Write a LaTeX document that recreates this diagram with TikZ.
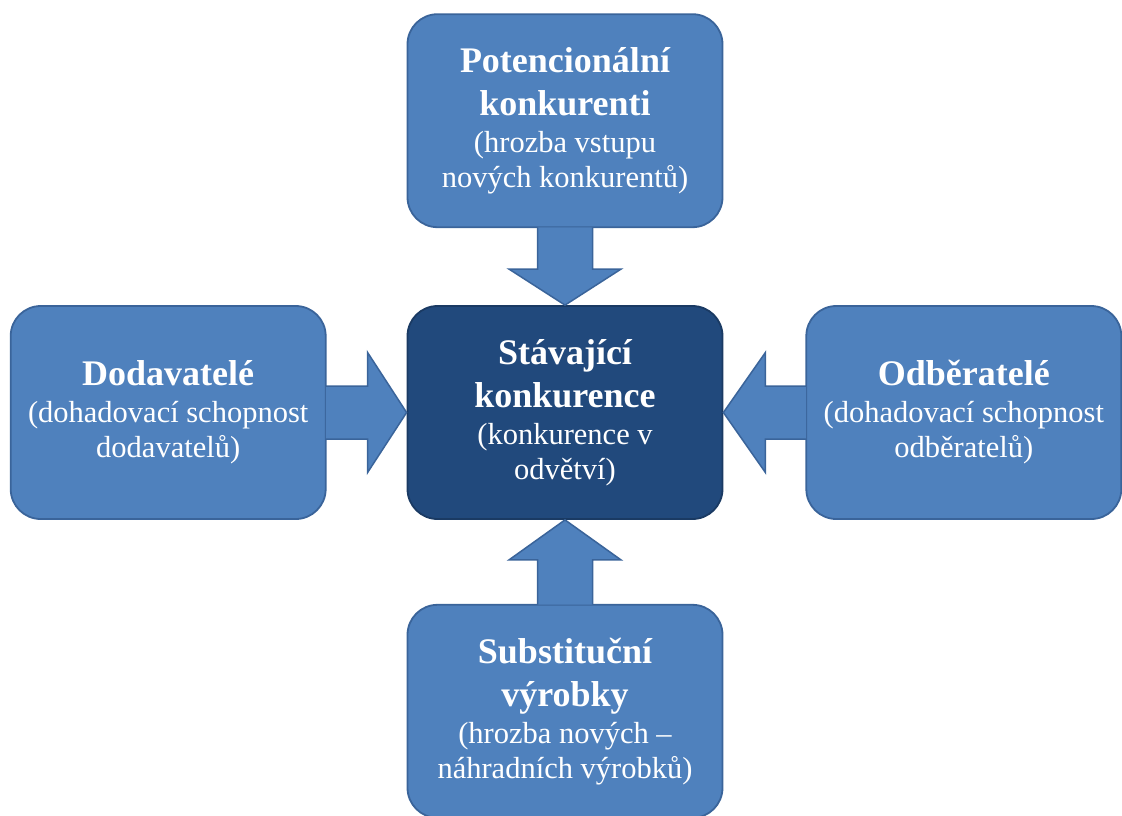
\documentclass[tikz,border=0pt]{standalone}
\usepackage{fontspec}
\setmainfont{Liberation Serif}
\usepackage{xcolor}
\usepackage{tikz}
\usetikzlibrary{positioning, calc}
\definecolor{boxblue}{HTML}{4F81BD}
\definecolor{boxline}{HTML}{3A649A}
\definecolor{coreblue}{HTML}{21497C}
\definecolor{coreline}{HTML}{1A3A63}
\newcommand{\forcetitle}[1]{{\fontsize{36}{43}\selectfont\bfseries #1}}
\tikzstyle{force} = [rounded corners=30pt, draw=boxline, line width=1.8pt, fill=boxblue, text=white, align=center, minimum width=315pt, minimum height=213pt, inner sep=0pt, font=\fontsize{30.5}{35}\selectfont]
\tikzstyle{blockarrow} = [draw=boxline, line width=1.5pt, fill=boxblue, line join=miter]

\begin{document}
\begin{tikzpicture}[
    x=1pt, y=1pt,
    core/.style={force, fill=coreblue, draw=coreline}
]
\useasboundingbox (0,0) rectangle (1122,-815);

% Nodes
\node (current) [core] at (565,-412.5) {\forcetitle{Stávající}\\[8pt]\forcetitle{konkurence}\\[2pt](konkurence v\\odvětví)};
\node (entrants) [force, above=77pt of current] {\forcetitle{Potencionální}\\[8pt]\forcetitle{konkurenti}\\[2pt](hrozba vstupu\\nových konkurentů)};
\node (suppliers) [force, left=80pt of current] {\forcetitle{Dodavatelé}\\[2pt](dohadovací schopnost\\dodavatelů)};
\node (buyers) [force, right=82pt of current] {\forcetitle{Odběratelé}\\[2pt](dohadovací schopnost\\odběratelů)};
\node (substitutes) [force, below=84pt of current] {\forcetitle{Substituční}\\[8pt]\forcetitle{výrobky}\\[2pt](hrozba nových –\\náhradních výrobků)};

% Arrows
\draw [blockarrow] ($(entrants.south)+(-27.5,0.8)$) -- ($(current.north)+(-27.5,36)$) -- ++(-28.5,0) -- (current.north) -- ($(current.north)+(56,36)$) -- ++(-28.5,0) -- ($(entrants.south)+(27.5,0.8)$);
\draw [blockarrow] ($(substitutes.north)+(-27.5,-0.8)$) -- ($(current.south)+(-27.5,-40)$) -- ++(-28.5,0) -- (current.south) -- ($(current.south)+(56,-40)$) -- ++(-28.5,0) -- ($(substitutes.north)+(27.5,-0.8)$);
\draw [blockarrow] ($(suppliers.east)+(-0.8,26.5)$) -- ($(current.west)+(-39,26.5)$) -- ++(0,33.5) -- (current.west) -- ($(current.west)+(-39,-60)$) -- ++(0,33.5) -- ($(suppliers.east)+(-0.8,-26.5)$);
\draw [blockarrow] ($(buyers.west)+(0.8,26.5)$) -- ($(current.east)+(42,26.5)$) -- ++(0,33.5) -- (current.east) -- ($(current.east)+(42,-60)$) -- ++(0,33.5) -- ($(buyers.west)+(0.8,-26.5)$);

\end{tikzpicture}
\end{document}
